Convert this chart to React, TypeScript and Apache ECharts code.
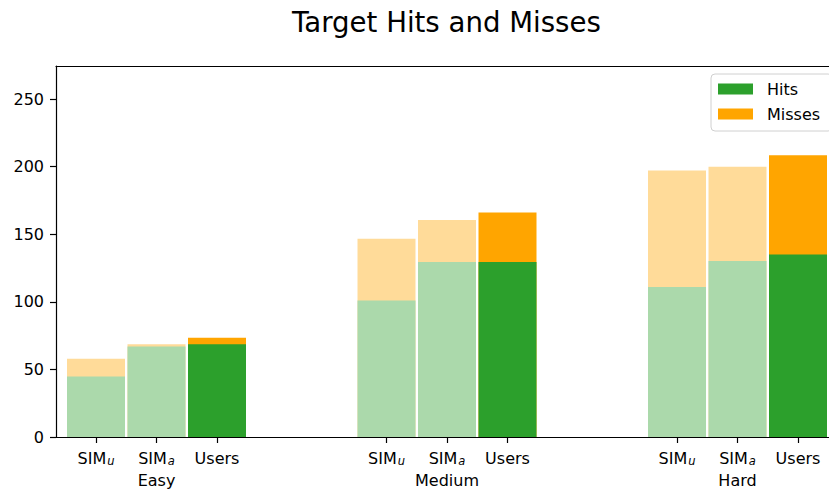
import React, { useEffect, useRef } from "react";
import * as echarts from "echarts";

// ---- data ----
const groups = ["Easy", "Medium", "Hard"];
const sources = ["SIM_u", "SIM_a", "Users"];
const hitsSimU = [44.8, 101, 111];
const hitsSimA = [67, 129.5, 130.2];
const hitsUsers = [68.6, 129.5, 135];
const missesSimU = [13.1, 45.7, 86.1];
const missesSimA = [1.6, 31, 69.8];
const missesUsers = [4.8, 36.6, 73.5];
const yTicks = [0, 50, 100, 150, 200, 250];

// ---- style / layout ----
const GREEN = "#2ca02c";
const ORANGE = "#ffa500";
const LIGHT_GREEN = "#abd9ab";
const LIGHT_ORANGE = "#ffdb99";
const FONT = "DejaVu Sans";
const PX_PER_GROUP = 290.5;
const BAR_STEP = 60.5 / PX_PER_GROUP; // offset between bars in a group (group units)
const X_MIN = -100.5 / PX_PER_GROUP;
const X_MAX = X_MIN + 773 / PX_PER_GROUP;
const Y_MAX = 274.5;

const hitsBySource = [hitsSimU, hitsSimA, hitsUsers];
const missesBySource = [missesSimU, missesSimA, missesUsers];

const positions: number[] = [];
const hitsData: any[] = [];
const totalData: any[] = [];
groups.forEach((_, g) => {
  sources.forEach((src, k) => {
    const x = g + (k - 1) * BAR_STEP;
    positions.push(x);
    const isUser = src === "Users";
    const h = hitsBySource[k][g];
    const m = missesBySource[k][g];
    hitsData.push({ value: [x, h], itemStyle: { color: isUser ? GREEN : LIGHT_GREEN } });
    totalData.push({ value: [x, h + m], itemStyle: { color: isUser ? ORANGE : LIGHT_ORANGE } });
  });
});

function xLabel(value: number): string {
  const g = Math.round(value);
  const k = Math.round((value - g) / BAR_STEP) + 1;
  const src = sources[k];
  let first: string;
  if (src.startsWith("SIM_")) {
    first = "{m|SIM}{s|" + src.slice(4) + "}";
  } else {
    first = "{m|" + src + "}";
  }
  if (k === 1) return first + "\n{m|" + groups[g] + "}";
  return first;
}

export default function App() {
  const ref = useRef<HTMLDivElement>(null);
  useEffect(() => {
    if (!ref.current) return;
    const chart = echarts.init(ref.current, undefined, { renderer: "svg" });
    chart.setOption({
      animation: false,
      backgroundColor: "#ffffff",
      title: {
        text: "Target Hits and Misses",
        left: 292,
        top: 8,
        padding: 0,
        textStyle: { fontFamily: FONT, fontSize: 27.6, fontWeight: "normal", color: "#000" },
      },
      legend: {
        orient: "vertical",
        left: 711,
        top: 74,
        padding: [7, 12, 9, 7],
        itemWidth: 35,
        itemHeight: 11,
        itemGap: 9,
        icon: "rect",
        selectedMode: false,
        borderColor: "#d0d0d0",
        borderWidth: 1,
        borderRadius: 4,
        backgroundColor: "rgba(255,255,255,0.85)",
        data: ["Hits", "Misses"],
        textStyle: { fontFamily: FONT, fontSize: 16, lineHeight: 16, color: "#000", padding: [0, 0, 0, 9] },
      },
      grid: { left: 56, top: 66, right: 0, bottom: 53, containLabel: false },
      xAxis: [
        {
          type: "value",
          min: X_MIN,
          max: X_MAX,
          position: "bottom",
          splitLine: { show: false },
          axisLine: { show: true, onZero: false, lineStyle: { color: "#000", width: 1.2 } },
          axisTick: { show: true, length: 6, customValues: positions, lineStyle: { color: "#000", width: 1.2 } },
          axisLabel: {
            show: true,
            customValues: positions,
            formatter: (v: number) => xLabel(v),
            margin: 10,
            color: "#000",
            fontFamily: FONT,
            fontSize: 16,
            lineHeight: 22,
            rich: {
              m: { fontFamily: FONT, fontSize: 16, lineHeight: 22, color: "#000" },
              s: { fontFamily: FONT, fontSize: 11.5, fontStyle: "italic", color: "#000", padding: [6, 0, 0, 1] },
            },
          },
        },
        {
          type: "value",
          min: X_MIN,
          max: X_MAX,
          position: "top",
          splitLine: { show: false },
          axisLine: { show: true, onZero: false, lineStyle: { color: "#000", width: 1.2 } },
          axisTick: { show: false },
          axisLabel: { show: false },
        },
      ],
      yAxis: {
        type: "value",
        min: 0,
        max: Y_MAX,
        interval: 50,
        position: "left",
        splitLine: { show: false },
        axisLine: { show: true, onZero: false, lineStyle: { color: "#000", width: 1.2 } },
        axisTick: { show: true, length: 6, customValues: yTicks, lineStyle: { color: "#000", width: 1.2 } },
        axisLabel: { customValues: yTicks, margin: 12, color: "#000", fontFamily: FONT, fontSize: 16 },
      },
      series: [
        {
          name: "Misses",
          type: "bar",
          xAxisIndex: 0,
          barWidth: 58,
          barGap: "-100%",
          itemStyle: { color: ORANGE },
          data: totalData,
        },
        {
          name: "Hits",
          type: "bar",
          xAxisIndex: 0,
          barWidth: 58,
          barGap: "-100%",
          itemStyle: { color: GREEN },
          data: hitsData,
        },
      ],
    });
    return () => chart.dispose();
  }, []);
  return (
    <div
      ref={ref}
      style={{ position: "fixed", left: 0, top: 0, width: 829, height: 491, background: "#fff" }}
    />
  );
}
